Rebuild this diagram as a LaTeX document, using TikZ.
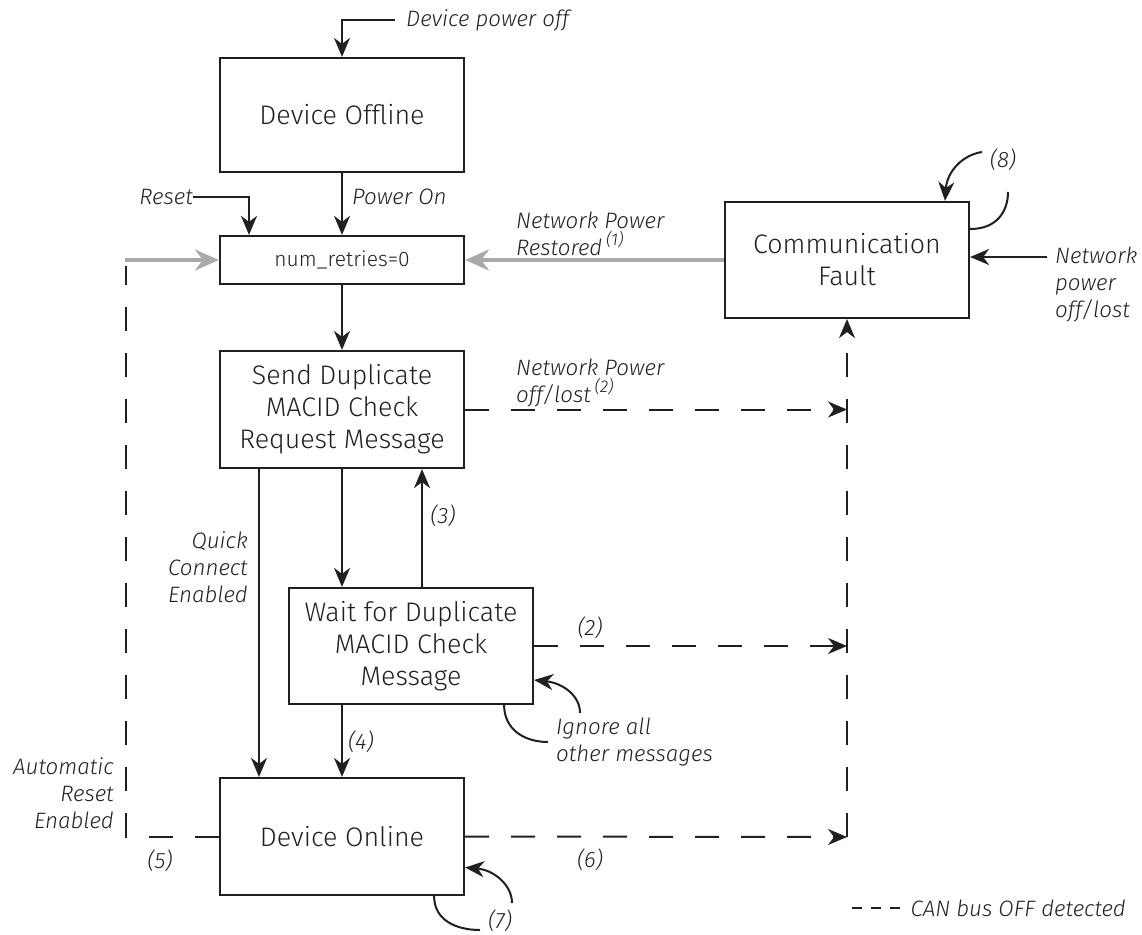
\documentclass[tikz,border=0pt]{standalone}
\usepackage{fontspec}
\setmainfont{Fira Sans Light}[ItalicFont={Fira Sans Light Italic}]
\usetikzlibrary{arrows.meta}
\definecolor{ink}{HTML}{231F20}
\definecolor{faint}{HTML}{A7A9AC}
\tikzset{
  state/.style={draw=ink, line width=2.2pt, minimum width=244pt, text=ink,
    align=center, font=\fontsize{26.8}{32}\selectfont, inner sep=0pt},
  lbl/.style={text=ink, font=\fontsize{22.3}{27}\selectfont\itshape, inner sep=0pt},
  tip/.style={-{Stealth[length=19pt,width=16pt,inset=6pt]}},
  flow/.style={draw=ink, line width=2pt, tip},
  plain/.style={draw=ink, line width=2pt},
  cut/.style={draw=ink, line width=2pt, dash pattern=on 24pt off 22pt},
  cutflow/.style={cut, tip},
  restore/.style={draw=faint, line width=4.5pt, -{Stealth[length=24pt,width=21pt,inset=8pt]}},
}
\newcommand{\note}[1]{\raisebox{0.45em}{\fontsize{17}{17}\selectfont\itshape #1}}
\begin{document}
\begin{tikzpicture}[x=1pt,y=-1pt]
\useasboundingbox (0,0) rectangle (1142,934);

% states
\node[state, minimum height=114pt] (off)    at (342,115)   {Device Offline};
\node[state, minimum height=48pt, font=\fontsize{21}{25}\selectfont] (nr) at (342,260) {num\_retries=0};
\node[state, minimum height=117pt] (send)   at (342,409.5) {Send Duplicate\\MACID Check\\Request Message};
\node[state, minimum height=116pt] (wait)   at (411,646)   {Wait for Duplicate\\MACID Check\\Message};
\node[state, minimum height=117pt] (online) at (342,836.5) {Device Online};
\node[state, minimum height=116pt] (cf)     at (847,260)   {Communication\\Fault};

% labels
\node[lbl, anchor=west] (dpo) at (406,20) {Device power off};
\node[lbl, anchor=east] (rst) at (193,197) {Reset};
\node[lbl, anchor=west] (pon) at (352,197) {Power On};
\node[lbl, anchor=west, align=left] (npr) at (516,234) {Network Power\\Restored\,\note{(1)}};
\node[lbl, anchor=west, align=left] (npl2) at (516,383) {Network Power\\off/lost\,\note{(2)}};
\node[lbl, anchor=west, align=left] (npl) at (1055,284) {Network\\power\\off/lost};
\node[lbl] (l8) at (1003,160) {(8)};
\node[lbl, anchor=east, align=right] (qc) at (248,567) {Quick\\Connect\\Enabled};
\node[lbl] (l3) at (443,516) {(3)};
\node[lbl] (l2) at (590,628) {(2)};
\node[lbl, anchor=west, align=left] (ign) at (556,742) {Ignore all\\other messages};
\node[lbl] (l4) at (361,742) {(4)};
\node[lbl, anchor=east, align=right] (are) at (114,793) {Automatic\\Reset\\Enabled};
\node[lbl] (l5) at (160,861) {(5)};
\node[lbl] (l6) at (590,860) {(6)};
\node[lbl] (l7) at (500,921) {(7)};
\node[lbl, anchor=east] (leg) at (1126,908) {CAN bus OFF detected};

% free ends
\coordinate (grayTail) at (125,260);
\coordinate (autoTop) at (126,266);
\coordinate (nplTail) at (1047,257);
\coordinate (bus) at (847,837);

% solid transitions
\draw[flow] ([xshift=-11pt]dpo.west) -| (off.north);
\draw[flow] (rst.east) -| ([xshift=-93pt]nr.north);
\draw[flow] (off.south) -- (nr.north);
\draw[flow] (nr.south) -- (send.north);
\draw[flow] (send.south) -- (send.south |- wait.north);
\draw[flow] ([xshift=11pt]wait.north) -- ([xshift=11pt]wait.north |- send.south);
\draw[flow] ([xshift=-83pt]send.south) -- ([xshift=-83pt]online.north);
\draw[flow] (send.south |- wait.south) -- (online.north);
\draw[flow] (nplTail) -- (cf.east |- nplTail);

% network power restored (grey)
\draw[restore] (cf.west) -- (nr.east);
\draw[restore] (grayTail) -- (nr.west);

% CAN bus off paths (dashed)
\draw[cutflow] (send.east) -- (send.east -| cf.south);
\draw[cutflow] (wait.east) -- (wait.east -| cf.south);
\draw[cutflow] (online.east) -- (bus);
\draw[cutflow] (bus) -- (cf.south);
\draw[cut] (online.west) -| (autoTop);

% self loops
\draw[plain] ([xshift=-30pt]wait.south east) .. controls +(0,24) and +(-24,0) .. (548,742);
\draw[flow] (580,713) .. controls (580,695) and (562,683) .. ([yshift=-34pt]wait.east);
\draw[plain] ([xshift=-31pt]online.south east) .. controls +(0,24) and +(-24,0) .. (480,930);
\draw[flow] (512,903) .. controls (512,885) and (494,870) .. ([yshift=-31pt]online.east);
\draw[plain] ([yshift=31pt]cf.east) .. controls +(28,0) and +(0,18) .. (1008,192);
\draw[flow] (982,152) .. controls (962,155) and (947,172) .. ([xshift=98pt]cf.north);

% legend sample
\draw[draw=ink, line width=2pt, dash pattern=on 10pt off 9pt]
  ([xshift=-10pt]leg.west) -- ++(-48pt,0);
\end{tikzpicture}
\end{document}
